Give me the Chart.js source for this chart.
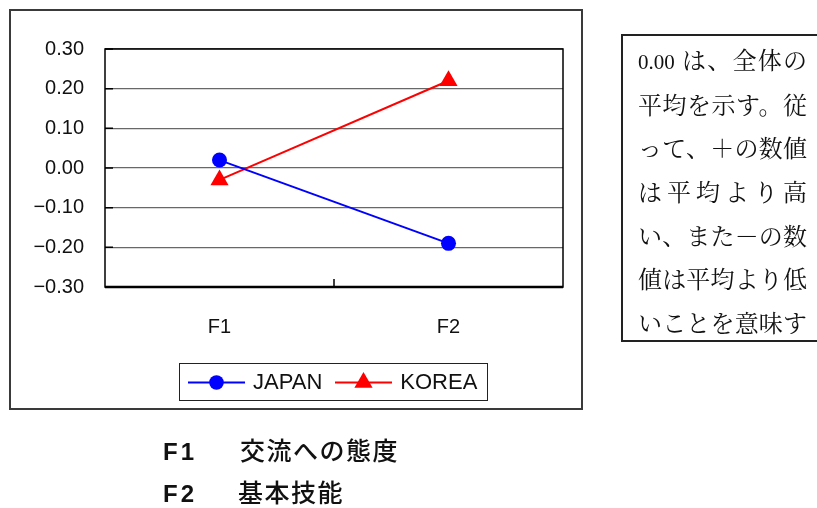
<!DOCTYPE html>
<html lang="ja">
<head>
<meta charset="utf-8">
<script src="https://cdn.jsdelivr.net/npm/chart.js@4/dist/chart.umd.min.js"></script>
<style>
  html, body { margin: 0; padding: 0; background: #fff; }
  body { width: 817px; height: 508px; position: relative; overflow: hidden; }
  #frame { position: absolute; left: 9px; top: 9px; width: 574px; height: 401px;
           border: 2px solid #3a3a3a; box-sizing: border-box; }
  #chart { position: absolute; left: 0; top: 0; }
  #legend { position: absolute; left: 179px; top: 363px; width: 309px; height: 38px;
            border: 1px solid #222; box-sizing: border-box; display: flex; align-items: center;
            font-family: "Liberation Sans", Arial, sans-serif; font-size: 22px; color: #111; }
  #legend .item { display: flex; align-items: center; margin-left: 8px; }
  #legend .item + .item { margin-left: 13px; }
  #legend .item span { margin-left: 8px; }
  #note { position: absolute; left: 621px; top: 34px; width: 230px; height: 308px;
          border: 2px solid #222; box-sizing: border-box; }
  #note div { position: absolute; left: 15px; width: 169px; height: 30px; line-height: 30px;
              font-family: "Noto Serif CJK JP", "Noto Sans CJK JP", sans-serif; font-size: 24px;
              text-align: justify; text-align-last: justify; color: #111; white-space: nowrap; }
  #note .num { font-family: "Liberation Serif", "Times New Roman", serif; font-size: 21px; }
  .key { position: absolute; font-family: "Noto Sans CJK JP", sans-serif; font-weight: 500;
         font-size: 25px; color: #111; white-space: nowrap; line-height: 30px; letter-spacing: 1.5px; }
  .key.f { font-family: "Liberation Sans", Arial, sans-serif; font-weight: bold; font-size: 24px; letter-spacing: 3px; }
</style>
</head>
<body>
<div id="frame"></div>
<canvas id="chart" width="817" height="508"></canvas>
<div id="legend"></div>

<div id="note">
  <div style="top:8px"><span class="num">0.00</span> は、全体の</div>
  <div style="top:53px">平均を示す。従</div>
  <div style="top:96px">って、＋の数値</div>
  <div style="top:140px">は平均より高</div>
  <div style="top:184px">い、また－の数</div>
  <div style="top:227px">値は平均より低</div>
  <div style="top:271px">いことを意味す</div>
</div>

<div class="key f" style="left:163px; top:437px;">F1</div>
<div class="key" style="left:240px; top:434px;">交流への態度</div>
<div class="key f" style="left:163px; top:479px;">F2</div>
<div class="key" style="left:238px; top:476px;">基本技能</div>

<script>
// Factor scores by country
const categories = ['F1', 'F2'];
const japanValues = [0.02, -0.19];
const koreaValues = [-0.03, 0.22];
const seriesNames = ['JAPAN', 'KOREA'];

// Value axis ticks
const yTickValues = [-0.3, -0.2, -0.1, 0, 0.1, 0.2, 0.3];
const yTickLabels = ['−0.30', '−0.20', '−0.10', '0.00', '0.10', '0.20', '0.30'];

const axisFont = { family: '"Liberation Sans", Arial, sans-serif', size: 20 };

// Black frame round the plot area plus short inward tick marks
const plotFrame = {
  id: 'plotFrame',
  beforeDatasetsDraw(chart) {
    const { ctx, chartArea: a, scales: { x, y } } = chart;
    ctx.save();
    ctx.strokeStyle = '#000';
    ctx.lineWidth = 1.5;
    ctx.beginPath();
    y.ticks.forEach(t => {
      const py = y.getPixelForValue(t.value);
      ctx.moveTo(a.left, py);
      ctx.lineTo(a.left + 8, py);
    });
    for (let i = 0; i < categories.length - 1; i++) {
      const px = x.getPixelForValue(i + 0.5);
      ctx.moveTo(px, a.bottom);
      ctx.lineTo(px, a.bottom - 8);
    }
    ctx.stroke();
    ctx.lineWidth = 1.5;
    ctx.strokeRect(a.left, a.top, a.right - a.left, a.bottom - a.top);
    ctx.lineWidth = 2.5;
    ctx.beginPath();
    ctx.moveTo(a.left, a.bottom);
    ctx.lineTo(a.right, a.bottom);
    ctx.stroke();
    ctx.restore();
  }
};

const chart = new Chart(document.getElementById('chart'), {
  type: 'line',
  data: {
    labels: categories,
    datasets: [
      {
        label: seriesNames[0], data: japanValues,
        borderColor: '#0000ff', backgroundColor: '#0000ff', borderWidth: 2,
        pointStyle: 'circle', pointRadius: 7.5, pointBorderWidth: 0, tension: 0
      },
      {
        label: seriesNames[1], data: koreaValues,
        borderColor: '#ff0000', backgroundColor: '#ff0000', borderWidth: 2,
        pointStyle: 'triangle', pointRadius: 10.5, pointBorderWidth: 0, tension: 0
      }
    ]
  },
  options: {
    responsive: false,
    animation: false,
    events: [],
    layout: { padding: { top: 49, right: 254, bottom: 161, left: 0 } },
    plugins: { legend: { display: false }, tooltip: { enabled: false } },
    scales: {
      x: {
        type: 'category',
        offset: true,
        grid: { display: false },
        border: { display: false },
        ticks: { color: '#111', font: axisFont, padding: 20, maxRotation: 0 },
        afterFit(s) { s.height = 60; }
      },
      y: {
        min: -0.3, max: 0.3,
        grid: { color: '#686868', lineWidth: 1.3, drawTicks: false },
        border: { display: false },
        ticks: {
          color: '#111', font: axisFont, padding: 21,
          callback: (v) => yTickLabels[yTickValues.findIndex(t => Math.abs(t - v) < 1e-9)]
        },
        afterBuildTicks(s) { s.ticks = yTickValues.map(v => ({ value: v })); },
        afterFit(s) { s.width = 105; }
      }
    }
  },
  plugins: [plotFrame]
});

// Legend built from the datasets: a line sample with its marker, then the name
const legend = document.getElementById('legend');
chart.data.datasets.forEach(ds => {
  const item = document.createElement('div');
  item.className = 'item';
  const marker = ds.pointStyle === 'triangle'
    ? '<polygon points="28.5,5 37.6,20.75 19.4,20.75" fill="' + ds.backgroundColor + '"/>'
    : '<circle cx="28.5" cy="15.5" r="7.3" fill="' + ds.backgroundColor + '"/>';
  item.innerHTML =
    '<svg width="57" height="30" viewBox="0 0 57 30">' +
    '<line x1="0" y1="15.5" x2="57" y2="15.5" stroke="' + ds.borderColor + '" stroke-width="2"/>' +
    marker + '</svg><span>' + ds.label + '</span>';
  legend.appendChild(item);
});
</script>
</body>
</html>
